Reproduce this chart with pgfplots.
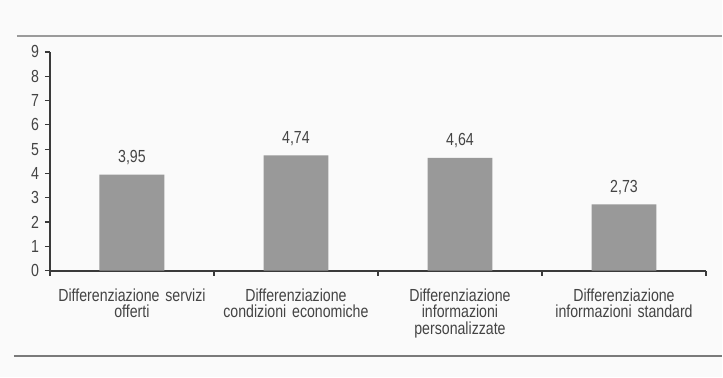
\documentclass[border=0pt]{standalone}
\usepackage{fontspec}
\setmainfont{Liberation Sans}[FakeStretch=0.81]
\usepackage{pgfplots}
\pgfplotsset{compat=1.18}

\definecolor{pagebg}{HTML}{FAFAFA}
\definecolor{rulegray}{HTML}{9A9A9A}
\definecolor{rulebottom}{HTML}{7A7A7A}
\definecolor{barfill}{HTML}{999999}
\definecolor{axisdark}{HTML}{3A3A3A}
\definecolor{labeltext}{HTML}{444444}

\begin{document}
\fontsize{17.5}{16.5}\selectfont
\begin{tikzpicture}[x=1pt,y=1pt]
  % page background and the two horizontal rules framing the chart
  \fill[pagebg] (0,0) rectangle (723,378);
  \draw[line width=2pt, rulegray] (17,342) -- (723,342);
  \draw[line width=2pt, rulebottom] (14,22) -- (723,22);

  \begin{axis}[
      at={(50pt,107pt)}, anchor=south west,
      scale only axis, width=657pt, height=219pt,
      xmin=0, xmax=4, ymin=0, ymax=9,
      axis x line*=bottom, axis y line*=left,
      x axis line style={line width=2pt, axisdark},
      y axis line style={line width=1.4pt, axisdark},
      tick align=outside,
      major tick length=5pt,
      tick style={line width=1.2pt, axisdark},
      ytick={0,1,...,9},
      xtick={0,1,2,3,4},
      xticklabels={},
      extra x ticks={0.5,1.5,2.5,3.5},
      extra x tick labels={
        {Differenziazione servizi\\offerti},
        {Differenziazione\\condizioni economiche},
        {Differenziazione\\informazioni\\personalizzate},
        {Differenziazione\\informazioni standard}},
      extra x tick style={
        major tick length=0pt,
        xticklabel style={align=center, text width=170pt, yshift=-12pt}},
      tick label style={text=labeltext},
      /pgf/number format/assume math mode=true,
      ybar, bar width=65pt,
      nodes near coords={\pgfmathprintnumber[fixed, fixed zerofill, precision=2, use comma]{\pgfplotspointmeta}},
      nodes near coords style={text=labeltext, yshift=4pt},
      clip=false,
    ]
    \addplot[fill=barfill, draw=none] coordinates {
      (0.5,3.95) (1.5,4.74) (2.5,4.64) (3.5,2.73)
    };
  \end{axis}
\end{tikzpicture}
\end{document}
